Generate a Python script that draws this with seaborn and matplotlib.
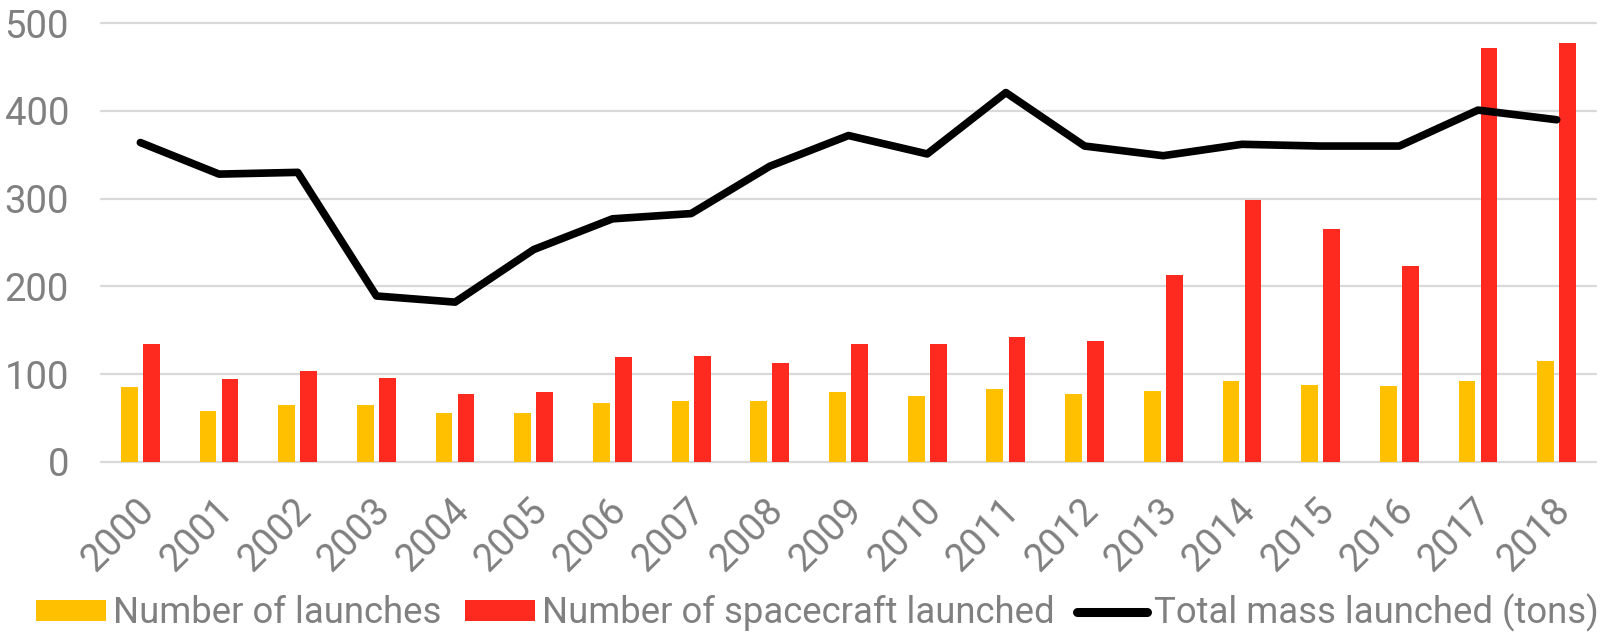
import numpy as np
import pandas as pd
import matplotlib
matplotlib.use("Agg")
import matplotlib.pyplot as plt
import matplotlib.transforms as mtransforms
import seaborn as sns
from matplotlib.patches import Patch
from matplotlib.lines import Line2D

years = [str(y) for y in range(2000, 2019)]
launches = [85, 58, 65, 65, 56, 56, 67, 69, 69, 79, 75, 83, 77, 81, 92, 88, 86, 92, 115]
spacecraft = [134, 94, 103, 96, 77, 79, 119, 121, 113, 134, 134, 142, 138, 213, 299, 265, 223, 472, 477]
mass = [364, 328, 330, 189, 182, 242, 277, 283, 337, 372, 351, 421, 360, 349, 362, 360, 360, 401, 390]

lab_launch = "Number of launches"
lab_sc = "Number of spacecraft launched"
lab_mass = "Total mass launched (tons)"

col_launch = "#FFC000"
col_sc = "#FF2A1F"
col_mass = "#000000"
grey = "#808080"

sns.set_theme(style="white")
plt.rcParams["font.family"] = ["Roboto", "DejaVu Sans"]

bars = pd.DataFrame({
    "year": years * 2,
    "series": [lab_launch] * len(years) + [lab_sc] * len(years),
    "value": launches + spacecraft,
})
line = pd.DataFrame({"year": years, "mass": mass})

fig = plt.figure(figsize=(16.19, 6.33), dpi=100)
ax = fig.add_axes([0.0624, 0.2706, 0.9234, 0.6926])

sns.barplot(data=bars, x="year", y="value", hue="series",
            hue_order=[lab_launch, lab_sc],
            palette=[col_launch, col_sc], width=0.56, gap=0.24,
            saturation=1, ax=ax, legend=False, linewidth=0)
sns.lineplot(data=line, x="year", y="mass", color=col_mass, lw=5.5,
             ax=ax, legend=False, sort=False, solid_capstyle="round")

ax.set_xlim(-0.5, len(years) - 0.5)
ax.set_ylim(0, 500)
ax.set_yticks([0, 100, 200, 300, 400, 500])
ax.yaxis.grid(True, color="#d9d9d9", lw=1.6)
ax.set_axisbelow(True)
for gl in ax.get_ygridlines():
    gl.set_clip_on(False)
for s in ax.spines.values():
    s.set_visible(False)
ax.set_xlabel("")
ax.set_ylabel("")
ax.tick_params(axis="y", length=0, pad=23, labelsize=27.5, labelcolor=grey)
ax.tick_params(axis="x", length=0, pad=27, labelsize=27.5, labelcolor=grey)
offset = mtransforms.ScaledTranslation(8 / 100, -6 / 100, fig.dpi_scale_trans)
for t in ax.get_xticklabels():
    t.set_rotation(45)
    t.set_ha("right")
    t.set_va("center")
    t.set_rotation_mode("anchor")
    t.set_transform(t.get_transform() + offset)

handles = [
    Patch(facecolor=col_launch, edgecolor="none"),
    Patch(facecolor=col_sc, edgecolor="none"),
    Line2D([0], [0], color=col_mass, lw=6.5, solid_capstyle="round"),
]
leg = fig.legend(handles, [lab_launch, lab_sc, lab_mass], loc="center",
                 bbox_to_anchor=(0.505, 0.032), ncol=3, frameon=False,
                 fontsize=26.3, handlelength=1.92, handleheight=0.5,
                 handletextpad=0.19, columnspacing=0.63, borderpad=0, borderaxespad=0)
for t in leg.get_texts():
    t.set_color(grey)

fig.savefig("out.png", dpi=100)
